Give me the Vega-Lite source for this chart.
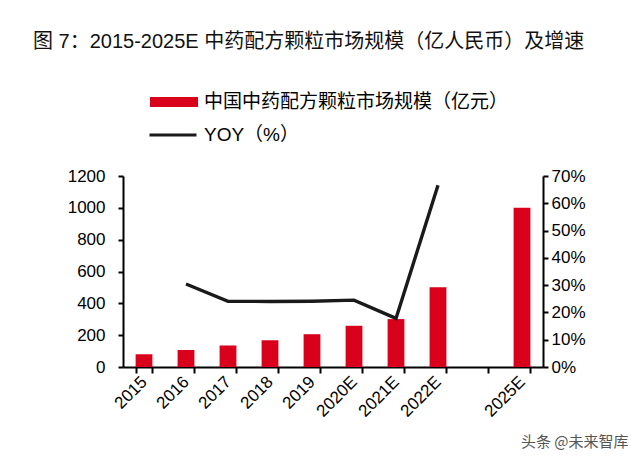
{
  "$schema": "https://vega.github.io/schema/vega-lite/v6.json",
  "autosize": "none",
  "padding": {"left": 123, "top": 176, "right": 97, "bottom": 98},
  "width": 420,
  "height": 191,
  "background": "white",
  "title": {
    "text": "图 7：2015-2025E 中药配方颗粒市场规模（亿人民币）及增速",
    "anchor": "start",
    "frame": "group",
    "dx": -90,
    "offset": 26,
    "font": "Liberation Sans, Noto Sans CJK SC",
    "fontSize": 20,
    "fontWeight": "normal",
    "color": "#111111"
  },
  "data": {
    "values": [
      {"year": "2015", "size": 80, "yoy": null},
      {"year": "2016", "size": 107, "yoy": 0.304},
      {"year": "2017", "size": 135, "yoy": 0.241},
      {"year": "2018", "size": 168, "yoy": 0.240},
      {"year": "2019", "size": 206, "yoy": 0.241},
      {"year": "2020E", "size": 259, "yoy": 0.245},
      {"year": "2021E", "size": 301, "yoy": 0.178},
      {"year": "2022E", "size": 501, "yoy": 0.666},
      {"year": "2025E", "size": 1000, "yoy": null}
    ]
  },
  "encoding": {
    "x": {
      "field": "year",
      "type": "nominal",
      "sort": null,
      "scale": {
        "domain": ["2015", "2016", "2017", "2018", "2019", "2020E", "2021E", "2022E", " ", "2025E"],
        "paddingInner": 0.6,
        "paddingOuter": 0.3
      },
      "axis": {
        "title": "头条 @未来智库",
        "titleFont": "Noto Sans CJK SC",
        "titleFontSize": 15,
        "titleFontWeight": "normal",
        "titleColor": "#555555",
        "titleAnchor": "end",
        "titleX": 505,
        "titleY": 74,
        "titleAlign": "right",
        "titleBaseline": "middle",
        "labelAngle": -45,
        "labelAlign": "right",
        "labelBaseline": "middle",
        "labelFont": "Liberation Sans",
        "labelFontSize": 17,
        "labelColor": "#000000",
        "labelPadding": 6,
        "tickBand": "extent",
        "tickSize": 6,
        "tickWidth": 2,
        "tickColor": "#000000",
        "domainColor": "#000000",
        "domainWidth": 2
      }
    }
  },
  "layer": [
    {
      "mark": {"type": "bar", "color": "#d9001b"},
      "encoding": {
        "y": {
          "field": "size",
          "type": "quantitative",
          "scale": {"domain": [0, 1200]},
          "axis": {
            "title": null,
            "format": "d",
            "values": [0, 200, 400, 600, 800, 1000, 1200],
            "grid": false,
            "labelFont": "Liberation Sans",
            "labelFontSize": 17,
            "labelColor": "#000000",
            "labelPadding": 13,
            "tickSize": 5,
            "tickWidth": 2,
            "tickColor": "#000000",
            "domainColor": "#000000",
            "domainWidth": 2
          }
        },
        "fill": {
          "datum": "中国中药配方颗粒市场规模（亿元）",
          "type": "nominal",
          "scale": {"range": ["#d9001b"]},
          "legend": {
            "title": null,
            "orient": "none",
            "legendX": 27,
            "legendY": -98,
            "symbolType": "M-1,-0.21H1V0.21H-1Z",
            "symbolSize": 2304,
            "symbolStrokeWidth": 0,
            "labelFont": "Noto Sans CJK SC",
            "labelFontSize": 19,
            "labelLimit": 0,
            "labelColor": "#000000",
            "labelOffset": 6,
            "padding": 0
          }
        }
      }
    },
    {
      "mark": {"type": "line", "strokeWidth": 3.4, "color": "#1a1a1a"},
      "transform": [{"filter": "datum.yoy != null"}],
      "encoding": {
        "y": {
          "field": "yoy",
          "type": "quantitative",
          "scale": {"domain": [0, 0.7]},
          "axis": {
            "title": null,
            "orient": "right",
            "format": ".0%",
            "values": [0, 0.1, 0.2, 0.3, 0.4, 0.5, 0.6, 0.7],
            "grid": false,
            "labelFont": "Liberation Sans",
            "labelFontSize": 17,
            "labelColor": "#000000",
            "labelPadding": 3,
            "tickSize": 5,
            "tickWidth": 2,
            "tickColor": "#000000",
            "domainColor": "#000000",
            "domainWidth": 2
          }
        },
        "stroke": {
          "datum": "YOY（%）",
          "type": "nominal",
          "scale": {"range": ["#1a1a1a"]},
          "legend": {
            "title": null,
            "orient": "none",
            "legendX": 25,
            "legendY": -66,
            "symbolType": "stroke",
            "symbolSize": 2209,
            "symbolStrokeWidth": 3,
            "labelFont": "Liberation Sans, Noto Sans CJK SC",
            "labelFontSize": 19,
            "labelLimit": 0,
            "labelColor": "#000000",
            "labelOffset": 6,
            "padding": 0
          }
        }
      }
    }
  ],
  "resolve": {"scale": {"y": "independent"}},
  "config": {
    "view": {"stroke": null}
  }
}
